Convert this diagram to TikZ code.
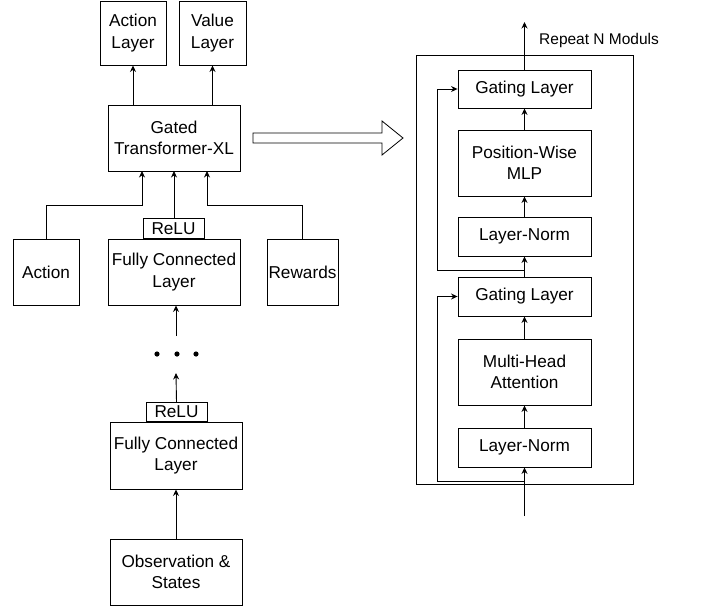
\documentclass[tikz,border=0pt]{standalone}
\usepackage{fontspec}
\setmainfont{Liberation Sans}
\usetikzlibrary{arrows.meta,calc}
\begin{document}
\begin{tikzpicture}[x=1pt,y=-1pt,
  box/.style={draw=black,line width=0.9pt,align=center,inner sep=0pt,font=\fontsize{17.2}{21.5}\selectfont},
  arr/.style={draw=black,line width=0.9pt,-{Stealth[length=6.5pt,width=6pt]}},
  ln/.style={draw=black,line width=0.9pt}]
\useasboundingbox (0,0) rectangle (702,608);
% left column
\node[box,minimum width=66pt,minimum height=64pt] (actL) at (133,33) {Action\\Layer};
\node[box,minimum width=67pt,minimum height=64pt] (valL) at (212.5,33) {Value\\Layer};
\node[box,minimum width=132pt,minimum height=66pt] (gtxl) at (174,138) {Gated\\Transformer-XL};
\node[box,minimum width=66pt,minimum height=66pt] (act) at (46,272) {Action};
\node[box,minimum width=132pt,minimum height=66pt] (fc1) at (174,272) {Fully Connected\\Layer};
\node[box,minimum width=61pt,minimum height=20pt,anchor=south] (relu1) at (173.5,239) {ReLU};
\node[box,minimum width=71pt,minimum height=66pt] (rew) at (302.5,272) {Rewards};
\node[box,minimum width=132pt,minimum height=67pt] (fc2) at (176,455.5) {Fully Connected\\Layer};
\node[box,minimum width=61pt,minimum height=19pt,anchor=south] (relu2) at (176.5,422) {ReLU};
\node[box,minimum width=132pt,minimum height=66pt] (obs) at (176,572) {Observation \&\\States};
% dots
\fill (157,354) circle (2.6pt) (177,354) circle (2.6pt) (196,354) circle (2.6pt);
\coordinate (dotsbot) at (176,373);
\coordinate (dotstop) at (176,336);
\coordinate (in1) at (142,171);
\coordinate (in2) at (174,171);
\coordinate (in3) at (207,171);
\coordinate (a1) at (46,205);
\coordinate (r1) at (302,205);
% arrows left
\draw[arr] (gtxl.north -| actL.south) -- (actL.south);
\draw[arr] (gtxl.north -| valL.south) -- (valL.south);
\draw[arr] (act.north) -- (a1) -| (in1);
\draw[arr] (relu1.north -| in2) -- (in2);
\draw[arr] (rew.north -| r1) -- (r1) -| (in3);
\draw[arr] (dotstop) -- (fc1.south -| dotstop);
\draw[arr] (relu2.north) -- (dotsbot);
\draw[arr] (obs.north) -- (fc2.south);
% hollow arrow
\draw[line width=0.8pt,fill=white] (253,133) -- (382,133) -- (382,121) -- (403,138) -- (382,155) -- (382,143) -- (253,143) -- cycle;
% right module
\node[draw=black,line width=0.9pt,minimum width=217pt,minimum height=429pt,inner sep=0pt] (outer) at (524.5,269.5) {};
\node[box,minimum width=133pt,minimum height=38pt] (g1) at (524.5,89) {Gating Layer};
\node[box,minimum width=133pt,minimum height=66pt] (mlp) at (524.5,163) {Position-Wise\\MLP};
\node[box,minimum width=133pt,minimum height=39pt] (ln1) at (524.5,236.5) {Layer-Norm};
\node[box,minimum width=133pt,minimum height=39pt] (g2) at (524.5,296.5) {Gating Layer};
\node[box,minimum width=133pt,minimum height=66pt] (mha) at (524.5,372) {Multi-Head\\Attention};
\node[box,minimum width=133pt,minimum height=39pt] (ln2) at (524.5,447.5) {Layer-Norm};
\node[font=\fontsize{15.5}{19}\selectfont,anchor=west,inner sep=0pt] (rep) at (539,40) {Repeat N Moduls};
\coordinate (topout) at (524.5,22);
\coordinate (botin) at (524.5,516);
\coordinate (s1) at (524.5,270);
\coordinate (s1l) at (437,270);
\coordinate (s2) at (524.5,481);
\coordinate (s2l) at (437,481);
\draw[arr] (g1.north) -- (topout);
\draw[arr] (mlp.north) -- (g1.south);
\draw[arr] (ln1.north) -- (mlp.south);
\draw[arr] (g2.north) -- (ln1.south);
\draw[arr] (mha.north) -- (g2.south);
\draw[arr] (ln2.north) -- (mha.south);
\draw[arr] (botin) -- (ln2.south);
\draw[arr] (s1) -- (s1l) |- (g1.west);
\draw[arr] (s2) -- (s2l) |- (g2.west);
\end{tikzpicture}
\end{document}
